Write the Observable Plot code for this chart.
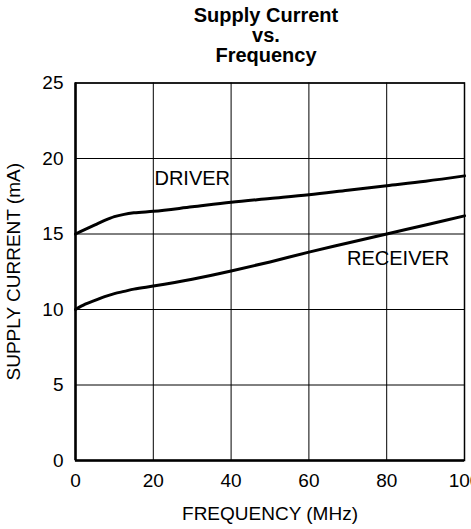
<!DOCTYPE html>
<html><head><meta charset="utf-8">
<script src="https://cdn.jsdelivr.net/npm/d3@7"></script>
<script src="https://cdn.jsdelivr.net/npm/@observablehq/plot@0.6"></script>
<style>html,body{margin:0;padding:0;background:#fff;overflow:hidden;} #chart svg{display:block}</style>
</head><body><div id="chart"></div>
<script>
const titleLines = ["Supply Current", "vs.", "Frequency"];
const frequency = [0, 2.5, 5, 7.5, 10, 12.5, 15, 20, 30, 40, 50, 60, 70, 80, 90, 100];
const driver = [15.0, 15.3, 15.6, 15.9, 16.15, 16.3, 16.4, 16.5, 16.8, 17.1, 17.35, 17.6, 17.9, 18.2, 18.5, 18.85];
const receiver = [10.0, 10.35, 10.6, 10.85, 11.05, 11.2, 11.35, 11.55, 12.0, 12.55, 13.15, 13.8, 14.4, 15.0, 15.6, 16.2];
const xTicks = [0, 20, 40, 60, 80, 100];
const yTicks = [0, 5, 10, 15, 20, 25];
const labelText = ["DRIVER", "RECEIVER"];
const labelX = [20.3, 69.8];
const labelY = [18.7, 13.37];

const chart = Plot.plot({
  width: 471,
  height: 529,
  marginTop: 82.5,
  marginLeft: 75,
  marginRight: 7,
  marginBottom: 69,
  style: {fontFamily: "'Liberation Sans', Arial, Helvetica, sans-serif", fontSize: "19px", background: "white", color: "black", overflow: "visible"},
  x: {domain: [0, 100], ticks: xTicks, tickSize: 0, tickPadding: 13, label: "FREQUENCY (MHz)", labelArrow: false, labelAnchor: "center", labelOffset: 59},
  y: {domain: [0, 25], ticks: yTicks, tickSize: 0, tickPadding: 12, label: "SUPPLY CURRENT (mA)", labelArrow: false, labelAnchor: "center", labelOffset: 69},
  marks: [
    Plot.ruleX(xTicks, {stroke: "black", strokeWidth: 1}),
    Plot.ruleY(yTicks, {stroke: "black", strokeWidth: 1}),
    Plot.frame({stroke: "black", strokeWidth: 1.5}),
    Plot.ruleX([0], {stroke: "black", strokeWidth: 2.5}),
    Plot.ruleY([0], {stroke: "black", strokeWidth: 2.5}),
    Plot.line(frequency, {x: frequency, y: driver, stroke: "black", strokeWidth: 3, curve: "monotone-x"}),
    Plot.line(frequency, {x: frequency, y: receiver, stroke: "black", strokeWidth: 3, curve: "monotone-x"}),
    Plot.text(labelText, {x: labelX, y: labelY, text: labelText, textAnchor: "start", fontSize: 20, fill: "black"}),
    Plot.text([titleLines.join("\n")], {frameAnchor: "top", dx: -4, dy: -75, lineAnchor: "top", lineHeight: 1.0, fontSize: 20, fontWeight: "bold", fill: "black"})
  ]
});
document.getElementById("chart").append(chart);
</script>
</body></html>
